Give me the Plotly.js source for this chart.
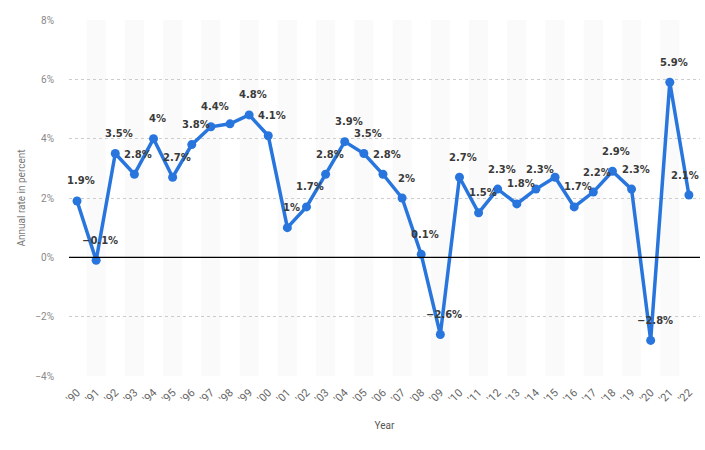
<!DOCTYPE html>
<html>
<head>
<meta charset="utf-8">
<script src="https://cdn.plot.ly/plotly-3.0.1.min.js"></script>
<style>html,body{margin:0;padding:0;background:#fff}#chart{width:705px;height:450px}</style>
</head>
<body>
<div id="chart"></div>
<script>
const years = ["'90","'91","'92","'93","'94","'95","'96","'97","'98","'99","'00","'01","'02","'03","'04","'05","'06","'07","'08","'09","'10","'11","'12","'13","'14","'15","'16","'17","'18","'19","'20","'21","'22"];
const rates = [1.9,-0.1,3.5,2.8,4.0,2.7,3.8,4.4,4.5,4.8,4.1,1.0,1.7,2.8,3.9,3.5,2.8,2.0,0.1,-2.6,2.7,1.5,2.3,1.8,2.3,2.7,1.7,2.2,2.9,2.3,-2.8,5.9,2.1];
const labels = ["1.9%","-0.1%","3.5%","2.8%","4%","2.7%","3.8%","4.4%","","4.8%","4.1%","1%","1.7%","2.8%","3.9%","3.5%","2.8%","2%","0.1%","-2.6%","2.7%","1.5%","2.3%","1.8%","2.3%","","1.7%","2.2%","2.9%","2.3%","-2.8%","5.9%","2.1%"];
const yTicks = [-4,-2,0,2,4,6,8];
const yTickText = ["−4%","−2%","0%","2%","4%","6%","8%"];

const FONT = "Roboto, 'Open Sans', Arial, sans-serif";
const LFONT = "'DejaVu Sans', Verdana, sans-serif";

const shapes = [];
years.forEach((y, i) => {
  if (i % 2 === 1) {
    shapes.push({type:'rect', xref:'x', yref:'paper', x0:i-0.5, x1:i+0.5, y0:0, y1:1,
      fillcolor:'#fafafa', line:{width:0}, layer:'below'});
  }
});
shapes.push({type:'line', xref:'paper', yref:'y', x0:0, x1:1, y0:0, y1:0, line:{color:'#000', width:1.2}});

const last = years.length - 1;
const annotations = years.map((y, i) => ({
  x: i, y: rates[i], xref:'x', yref:'y',
  text: labels[i].replace('-', '−'), showarrow:false,
  xshift: i === last ? -4 : 4, yshift: 20,
  font:{family:LFONT, size:10, color:'#3a3a3a', weight:'bold'}
})).filter(a => a.text !== '');

const trace = {
  x: years.map((y,i)=>i), y: rates, type:'scatter', mode:'lines+markers',
  line:{color:'#2876dd', width:3.5},
  marker:{color:'#2876dd', size:9},
  hoverinfo:'skip'
};

const layout = {
  width:705, height:450,
  margin:{l:69, r:5, t:20, b:74},
  paper_bgcolor:'#fff', plot_bgcolor:'#fff',
  showlegend:false,
  font:{family:FONT, color:'#666'},
  xaxis:{
    range:[-0.42, 32.58], tickvals: years.map((y,i)=>i), ticktext: years,
    tickangle:-45, showgrid:false, zeroline:false, showline:false, ticks:'',
    tickfont:{family:FONT, size:11, color:'#666'},
    ticklabelstandoff: 7,
    title:{text:'Year', font:{family:FONT, size:10, color:'#555'}, standoff:17}
  },
  yaxis:{
    range:[-4, 8], tickvals:yTicks, ticktext:yTickText,
    showgrid:true, gridcolor:'#cccccc', griddash:'dot', gridwidth:1,
    zeroline:false, showline:false, ticks:'',
    tickfont:{family:FONT, size:10, color:'#888'},
    ticklabelstandoff: 14,
    title:{text:'Annual rate in percent', font:{family:FONT, size:10, color:'#777'}, standoff:7}
  },
  shapes: shapes,
  annotations: annotations
};

Plotly.newPlot('chart', [trace], layout, {displayModeBar:false, staticPlot:true});
</script>
</body>
</html>
